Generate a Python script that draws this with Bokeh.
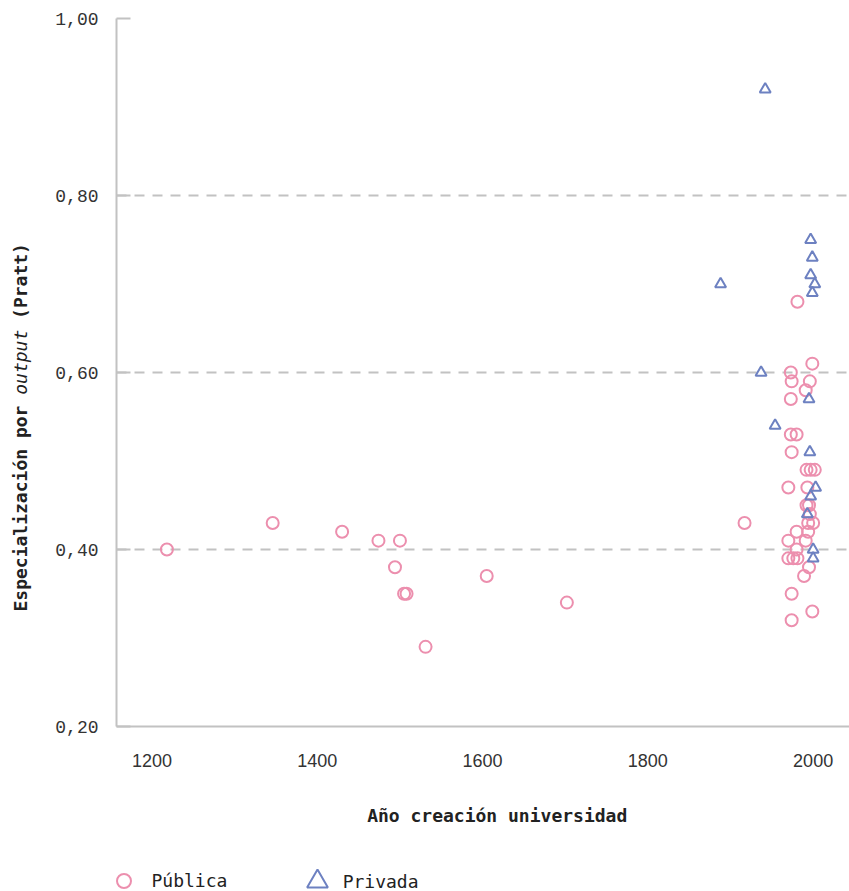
import math
from bokeh.plotting import figure
from bokeh.layouts import column, row
from bokeh.models import Range1d, FixedTicker, Label, Legend, LegendItem
from bokeh.embed import file_html
from bokeh.resources import INLINE

# Universidades públicas: año de creación y especialización (Pratt)
pub_year = [1218, 1346, 1430, 1474, 1500, 1494, 1505, 1508, 1531, 1605, 1702, 1917,
            1981, 1999, 1973, 1974, 1996, 1991, 1973, 1973, 1980, 1974,
            1992, 1997, 2002, 1970, 1993, 1992, 1995, 1996, 1994, 2000,
            1980, 1994, 1970, 1991, 1980, 1970, 1976, 1981, 1995, 1989,
            1974, 1999, 1974]
pub_val = [0.40, 0.43, 0.42, 0.41, 0.41, 0.38, 0.35, 0.35, 0.29, 0.37, 0.34, 0.43,
           0.68, 0.61, 0.60, 0.59, 0.59, 0.58, 0.57, 0.53, 0.53, 0.51,
           0.49, 0.49, 0.49, 0.47, 0.47, 0.45, 0.45, 0.44, 0.43, 0.43,
           0.42, 0.42, 0.41, 0.41, 0.40, 0.39, 0.39, 0.39, 0.38, 0.37,
           0.35, 0.33, 0.32]

# Universidades privadas
priv_year = [1942, 1888, 1997, 1999, 1997, 2002, 1999, 1937, 1995, 1954,
             1996, 2003, 1997, 1993, 2000, 2000]
priv_val = [0.92, 0.70, 0.75, 0.73, 0.71, 0.70, 0.69, 0.60, 0.57, 0.54,
            0.51, 0.47, 0.46, 0.44, 0.40, 0.39]

x_ticks = [1200, 1400, 1600, 1800, 2000]
y_ticks = [0.2, 0.4, 0.6, 0.8, 1.0]
y_tick_labels = ["0,20", "0,40", "0,60", "0,80", "1,00"]
grid_ticks = [0.4, 0.6, 0.8]

x_title = "Año creación universidad"
y_title_parts = ["Especialización por", "output", "(Pratt)"]
legend_labels = ["Pública", "Privada"]

PINK = "#ec8fae"
BLUE = "#6d81c1"
AXIS = "#c2c2c2"
TEXT = "#222222"
MONO = "DejaVu Sans Mono"


def blank_fig(w, h):
    f = figure(width=w, height=h, x_range=Range1d(0, 1), y_range=Range1d(0, 1),
               output_backend="svg", toolbar_location=None,
               min_border=0, min_border_left=0, min_border_right=0,
               min_border_top=0, min_border_bottom=0)
    f.axis.visible = False
    f.grid.visible = False
    f.outline_line_color = None
    f.background_fill_color = "white"
    f.border_fill_color = "white"
    return f


# ---------------- main scatter ----------------
p = figure(width=809, height=780,
           x_range=Range1d(1157, 2044), y_range=Range1d(0.2, 1.0),
           output_backend="svg", toolbar_location=None,
           min_border_left=76, min_border_right=0,
           min_border_top=18, min_border_bottom=54)
p.outline_line_color = None
p.background_fill_color = "white"
p.border_fill_color = "white"

p.scatter(pub_year, pub_val, marker="circle", size=12,
          fill_color=None, line_color=PINK, line_width=2)
p.scatter(priv_year, priv_val, marker="triangle", size=11,
          fill_color=None, line_color=BLUE, line_width=2)

xa = p.xaxis[0]
xa.ticker = FixedTicker(ticks=x_ticks)
xa.axis_line_color = AXIS
xa.axis_line_width = 2
xa.major_tick_line_color = None
xa.minor_tick_line_color = None
xa.major_label_text_font = "Liberation Sans"
xa.major_label_text_font_size = "18px"
xa.major_label_text_color = "#333333"
xa.major_label_standoff = 21

ya = p.yaxis[0]
ya.ticker = FixedTicker(ticks=y_ticks)
ya.major_label_overrides = {t: l for t, l in zip(y_ticks, y_tick_labels)}
ya.axis_line_color = AXIS
ya.axis_line_width = 2
ya.major_tick_line_color = AXIS
ya.major_tick_line_width = 2
ya.major_tick_in = 14
ya.major_tick_out = 0
ya.minor_tick_line_color = None
ya.major_label_text_font = "Liberation Mono"
ya.major_label_text_font_size = "18px"
ya.major_label_text_color = "#333333"
ya.major_label_standoff = 18

p.xgrid.grid_line_color = None
p.ygrid.ticker = FixedTicker(ticks=grid_ticks)
p.ygrid.grid_line_color = AXIS
p.ygrid.grid_line_width = 2
p.ygrid.grid_line_dash = "10 8"

# ---------------- y title (left strip; its frame is aligned with p's frame 18..726) ----------------
tf = blank_fig(40, 780)
fs = 18
cw = 0.602 * fs
start = 726 - 611
offsets = [0, 20, 27]   # character offsets (a space between the parts)
styles = ["bold", "italic", "bold"]
for part, off, st in zip(y_title_parts, offsets, styles):
    tf.add_layout(Label(x=20, y=start + off * cw, x_units="screen", y_units="screen",
                        text=part, angle=math.pi / 2, text_align="left",
                        text_baseline="middle", text_font=MONO,
                        text_font_style=st, text_font_size=f"{fs}px", text_color=TEXT))

# ---------------- x title + legend (bottom strip) ----------------
bf = blank_fig(849, 111)
bf.add_layout(Label(x=496.7, y=76, x_units="screen", y_units="screen",
                    text=x_title, text_align="center", text_baseline="alphabetic",
                    text_font=MONO, text_font_style="bold",
                    text_font_size="18px", text_color=TEXT))

# legend renderers: same data, lying outside this strip's (0..1) ranges
lr1 = bf.scatter(pub_year, pub_val, marker="circle", fill_color=None,
                 line_color=PINK, line_width=2)
lr2 = bf.scatter(priv_year, priv_val, marker="triangle", fill_color=None,
                 line_color=BLUE, line_width=2)

leg_common = dict(orientation="horizontal", padding=0, margin=0,
                  border_line_color=None, background_fill_alpha=0,
                  label_text_font=MONO, label_text_font_size="18px",
                  label_text_color=TEXT)
leg1 = Legend(items=[LegendItem(label=legend_labels[0], renderers=[lr1])],
              location=(105.5, -6.5), glyph_width=35, glyph_height=35,
              label_standoff=11, **leg_common)
leg2 = Legend(items=[LegendItem(label=legend_labels[1], renderers=[lr2])],
              location=(290.7, -16), glyph_width=52, glyph_height=52,
              label_standoff=0, **leg_common)
bf.add_layout(leg1)
bf.add_layout(leg2)

layout = column(row(tf, p, spacing=0), bf, spacing=0)
open("out.html", "w").write(file_html(layout, INLINE))
